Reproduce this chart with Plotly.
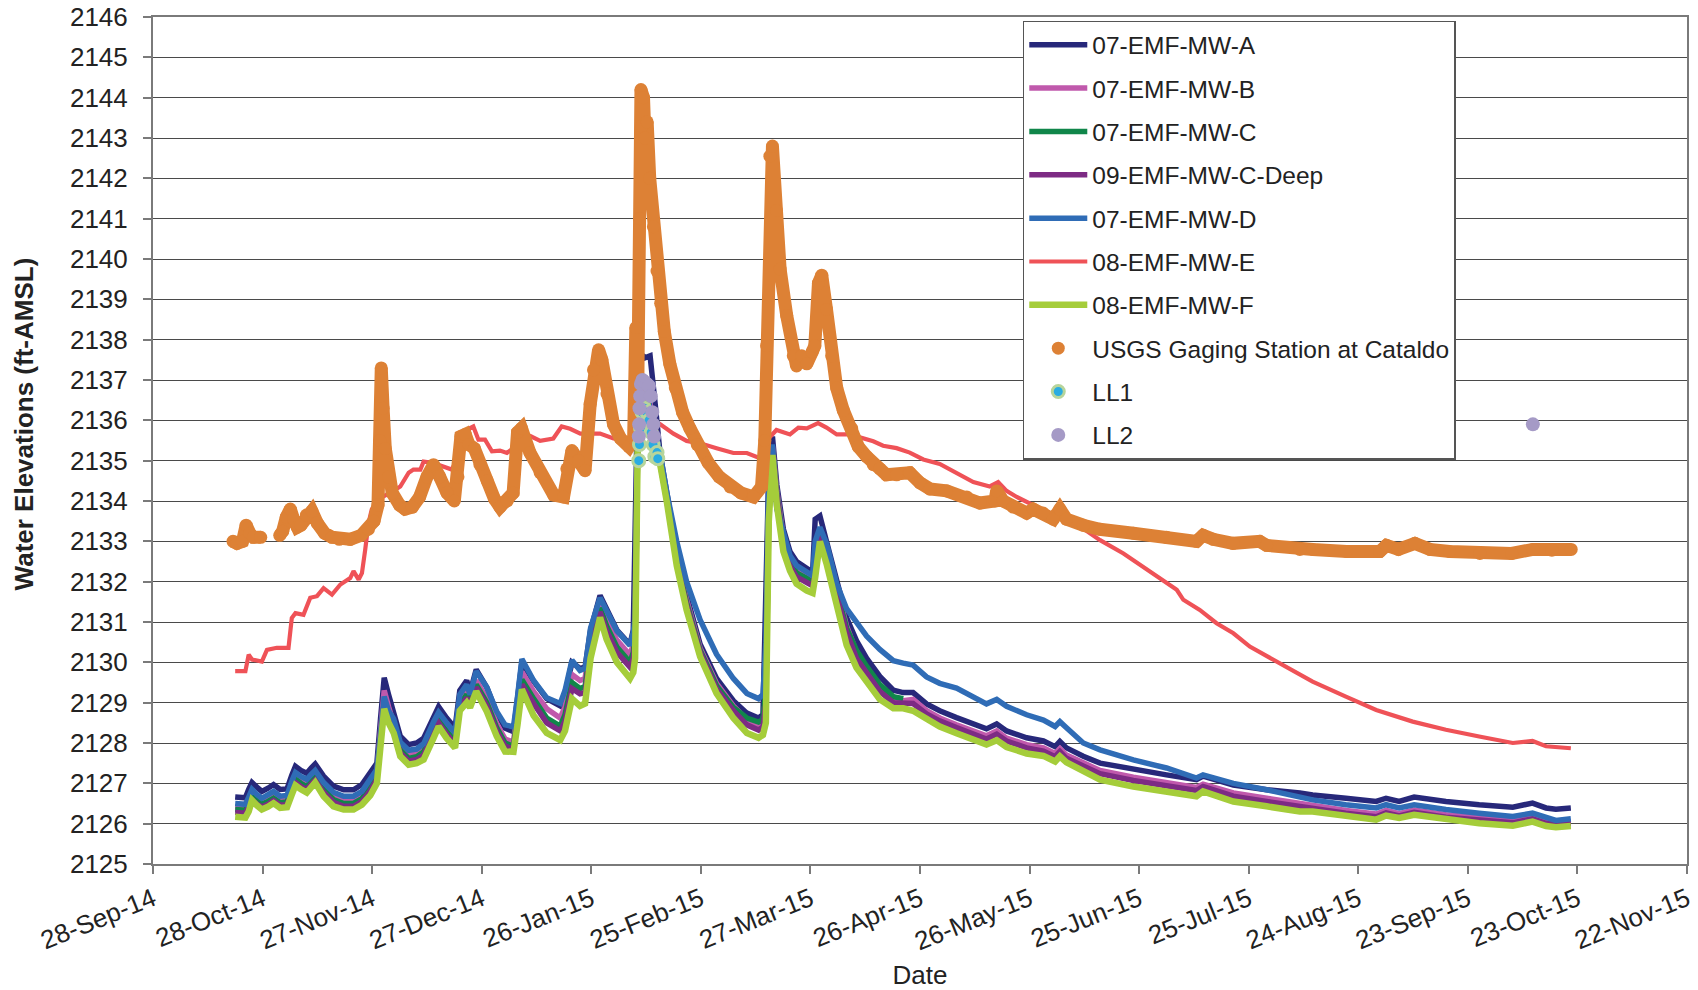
import pandas as pd
import plotly.graph_objects as go

START = pd.Timestamp("2014-09-28")

# ---------------- data (days since 28-Sep-2014, values in ft-AMSL) ----------------
well_days = [22.5, 25.3, 26.2, 27.1, 28.5, 29.8, 31.5, 33.0, 34.8, 36.7, 38.0, 39.0, 40.5, 42.1, 43.3, 44.4,
             46.7, 49.4, 52.2, 54.9, 57.2, 59.5, 61.3, 62.3, 63.3, 64.5, 65.9, 67.7, 70.0, 72.2, 74.1, 76.8,
             78.2, 80.4, 82.7, 84.0, 85.9, 86.8, 88.5, 91.4, 94.1, 96.4, 98.7, 99.8, 101.0, 104.2, 107.8,
             111.5, 112.8, 114.7, 116.9, 118.3, 119.8, 122.4, 124.2, 127.0, 129.3, 130.6, 131.5, 132.0,
             132.9, 134.7, 136.1, 137.5, 138.8, 140.7, 143.4, 146.1, 149.8, 154.3, 158.9, 162.6, 165.8,
             167.0, 167.8, 168.6, 169.6, 170.8, 172.6, 174.4, 176.2, 179.0, 180.6, 181.3, 182.6, 184.4,
             187.2, 189.9, 192.6, 195.4, 199.0, 202.7, 205.4, 208.1, 211.8, 215.4, 220.0, 224.6, 228.2,
             231.0, 233.7, 239.2, 243.8, 247.0, 248.3, 250.1, 254.7, 259.3, 268.4, 277.5, 285.7, 287.5,
             295.8, 304.9, 314.0, 317.5, 326.6, 334.9, 337.6, 341.2, 345.3, 354.0, 363.1, 372.3, 377.7,
             381.4, 384.1, 388.2]

mw_a = [2126.66, 2126.64, 2126.85, 2127.02, 2126.90, 2126.80, 2126.88, 2126.97, 2126.85, 2126.86, 2127.20,
        2127.42, 2127.32, 2127.25, 2127.38, 2127.48, 2127.18, 2126.93, 2126.84, 2126.84, 2126.97, 2127.24,
        2127.50, 2128.60, 2129.62, 2129.20, 2128.74, 2128.17, 2127.96, 2128.00, 2128.12, 2128.66, 2128.90,
        2128.62, 2128.37, 2129.30, 2129.55, 2129.25, 2129.82, 2129.38, 2128.75, 2128.37, 2128.28, 2129.10,
        2130.00, 2129.53, 2129.10, 2128.92, 2129.20, 2130.00, 2129.85, 2129.88, 2130.80, 2131.66, 2131.30,
        2130.80, 2130.57, 2130.45, 2130.80, 2133.10, 2137.70, 2137.55, 2137.60, 2136.40, 2135.20, 2134.20,
        2132.75, 2131.66, 2130.45, 2129.60, 2129.05, 2128.74, 2128.62, 2128.70, 2131.42, 2134.80, 2135.60,
        2134.40, 2133.30, 2132.75, 2132.50, 2132.34, 2132.23, 2133.55, 2133.63, 2133.00, 2132.00, 2131.10,
        2130.54, 2130.10, 2129.65, 2129.31, 2129.25, 2129.25, 2128.97, 2128.80, 2128.63, 2128.47, 2128.35,
        2128.47, 2128.30, 2128.13, 2128.05, 2127.91, 2128.04, 2127.88, 2127.67, 2127.50, 2127.34, 2127.21,
        2127.09, 2127.18, 2126.96, 2126.84, 2126.76, 2126.71, 2126.63, 2126.55, 2126.63, 2126.55, 2126.66,
        2126.55, 2126.47, 2126.41, 2126.51, 2126.39, 2126.36, 2126.39]

mw_b = [2126.42, 2126.40, 2126.58, 2126.75, 2126.62, 2126.55, 2126.62, 2126.70, 2126.60, 2126.62, 2126.95,
        2127.17, 2127.07, 2127.00, 2127.12, 2127.22, 2126.92, 2126.68, 2126.58, 2126.58, 2126.70, 2126.98,
        2127.25, 2128.30, 2129.30, 2128.90, 2128.48, 2127.92, 2127.72, 2127.75, 2127.86, 2128.40, 2128.65,
        2128.37, 2128.12, 2129.05, 2129.30, 2129.05, 2129.55, 2129.10, 2128.48, 2128.10, 2128.02, 2128.85,
        2129.76, 2129.28, 2128.85, 2128.62, 2128.90, 2129.70, 2129.55, 2129.60, 2130.55, 2131.45, 2131.05,
        2130.55, 2130.30, 2130.18, 2130.45, 2130.85, 2136.90, 2137.10, 2136.40, 2135.80, 2135.05, 2134.10,
        2132.62, 2131.55, 2130.35, 2129.48, 2128.92, 2128.58, 2128.45, 2128.50, 2129.20, 2134.00, 2135.35,
        2134.25, 2133.10, 2132.55, 2132.30, 2132.15, 2132.05, 2132.40, 2133.30, 2132.80, 2131.80, 2130.90,
        2130.25, 2129.85, 2129.40, 2129.10, 2129.05, 2129.08, 2128.80, 2128.62, 2128.45, 2128.30, 2128.18,
        2128.30, 2128.12, 2127.96, 2127.88, 2127.74, 2127.86, 2127.70, 2127.50, 2127.32, 2127.15, 2127.02,
        2126.90, 2126.98, 2126.76, 2126.63, 2126.50, 2126.45, 2126.33, 2126.24, 2126.33, 2126.25, 2126.34,
        2126.22, 2126.13, 2126.07, 2126.17, 2126.05, 2126.02, 2126.05]

mw_c = [2126.35, 2126.33, 2126.50, 2126.68, 2126.55, 2126.48, 2126.55, 2126.63, 2126.52, 2126.54, 2126.88,
        2127.10, 2127.00, 2126.92, 2127.05, 2127.15, 2126.85, 2126.60, 2126.50, 2126.50, 2126.62, 2126.90,
        2127.18, 2128.20, 2129.05, 2128.70, 2128.40, 2127.83, 2127.62, 2127.66, 2127.78, 2128.32, 2128.57,
        2128.29, 2128.04, 2128.95, 2129.20, 2128.98, 2129.45, 2129.00, 2128.38, 2128.00, 2127.92, 2128.72,
        2129.57, 2129.10, 2128.62, 2128.42, 2128.70, 2129.50, 2129.35, 2129.40, 2130.40, 2131.35, 2130.90,
        2130.38, 2130.12, 2130.00, 2130.25, 2130.65, 2136.80, 2137.00, 2136.25, 2135.65, 2135.00, 2134.05,
        2132.55, 2131.48, 2130.30, 2129.42, 2128.88, 2128.62, 2128.52, 2128.58, 2129.30, 2133.80, 2135.25,
        2134.18, 2133.00, 2132.48, 2132.22, 2132.08, 2131.98, 2132.35, 2133.20, 2132.70, 2131.72, 2130.85,
        2130.30, 2129.90, 2129.45, 2129.15, 2129.10, None, None, None, None, None, None,
        None, None, None, None, None, None, None, None, None, None, None,
        None, None, None, None, None, None, None, None, None, None, None,
        None, None, None, None, None, None, None]

mw_c_deep = [2126.28, 2126.26, 2126.43, 2126.60, 2126.48, 2126.42, 2126.48, 2126.57, 2126.46, 2126.47, 2126.80,
             2127.02, 2126.92, 2126.85, 2126.98, 2127.08, 2126.78, 2126.53, 2126.43, 2126.43, 2126.55, 2126.82,
             2127.10, 2128.10, 2128.95, 2128.60, 2128.33, 2127.76, 2127.55, 2127.59, 2127.70, 2128.25, 2128.50,
             2128.22, 2127.97, 2128.88, 2129.12, 2128.92, 2129.38, 2128.92, 2128.30, 2127.92, 2127.85, 2128.62,
             2129.45, 2128.98, 2128.50, 2128.30, 2128.55, 2129.35, 2129.22, 2129.25, 2130.30, 2131.25, 2130.78,
             2130.25, 2130.00, 2129.88, 2130.10, 2130.50, 2136.70, 2136.95, 2136.15, 2135.55, 2134.95, 2134.00,
             2132.50, 2131.42, 2130.25, 2129.35, 2128.80, 2128.45, 2128.32, 2128.40, 2129.00, 2133.60, 2135.20,
             2134.12, 2132.92, 2132.40, 2132.12, 2131.98, 2131.90, 2132.25, 2133.12, 2132.60, 2131.62, 2130.75,
             2130.10, 2129.72, 2129.28, 2129.00, 2128.98, 2128.98, 2128.72, 2128.55, 2128.38, 2128.22, 2128.10,
             2128.22, 2128.05, 2127.88, 2127.80, 2127.66, 2127.79, 2127.62, 2127.42, 2127.24, 2127.07, 2126.94,
             2126.82, 2126.92, 2126.68, 2126.55, 2126.42, 2126.38, 2126.26, 2126.17, 2126.27, 2126.19, 2126.28,
             2126.16, 2126.08, 2126.02, 2126.12, 2126.01, 2125.98, 2126.00]

mw_d = [2126.50, 2126.48, 2126.66, 2126.85, 2126.72, 2126.63, 2126.72, 2126.80, 2126.68, 2126.70, 2127.05,
        2127.27, 2127.17, 2127.10, 2127.22, 2127.32, 2127.02, 2126.78, 2126.68, 2126.68, 2126.80, 2127.08,
        2127.35, 2128.20, 2129.15, 2128.80, 2128.60, 2128.02, 2127.82, 2127.85, 2127.98, 2128.52, 2128.76,
        2128.50, 2128.25, 2129.20, 2129.45, 2129.20, 2129.78, 2129.38, 2128.78, 2128.45, 2128.40, 2129.15,
        2130.08, 2129.55, 2129.12, 2128.98, 2129.30, 2130.05, 2129.80, 2129.85, 2130.85, 2131.60, 2131.25,
        2130.78, 2130.55, 2130.42, 2130.75, 2131.10, 2136.80, 2136.90, 2136.30, 2135.70, 2135.20, 2134.20,
        2133.00, 2132.00, 2131.05, 2130.20, 2129.60, 2129.23, 2129.10, 2129.20, 2130.50, 2134.60, 2135.40,
        2133.80, 2133.20, 2132.65, 2132.40, 2132.25, 2132.15, 2133.00, 2133.35, 2132.95, 2131.95, 2131.33,
        2131.00, 2130.65, 2130.32, 2130.04, 2129.98, 2129.93, 2129.64, 2129.48, 2129.36, 2129.14, 2128.97,
        2129.08, 2128.91, 2128.70, 2128.57, 2128.41, 2128.53, 2128.38, 2128.00, 2127.83, 2127.58, 2127.38,
        2127.13, 2127.21, 2127.00, 2126.84, 2126.68, 2126.59, 2126.47, 2126.39, 2126.47, 2126.39, 2126.47,
        2126.35, 2126.26, 2126.18, 2126.26, 2126.14, 2126.08, 2126.12]

mw_f = [2126.17, 2126.15, 2126.30, 2126.58, 2126.45, 2126.35, 2126.42, 2126.51, 2126.39, 2126.41, 2126.72,
        2126.95, 2126.85, 2126.77, 2126.90, 2127.02, 2126.68, 2126.43, 2126.35, 2126.35, 2126.47, 2126.70,
        2127.00, 2127.95, 2128.85, 2128.50, 2128.25, 2127.67, 2127.46, 2127.50, 2127.59, 2128.12, 2128.41,
        2128.12, 2127.88, 2128.80, 2129.00, 2128.88, 2129.28, 2128.78, 2128.17, 2127.79, 2127.78, 2128.45,
        2129.33, 2128.68, 2128.25, 2128.07, 2128.30, 2129.10, 2128.92, 2128.98, 2130.10, 2131.11, 2130.57,
        2130.00, 2129.77, 2129.60, 2129.75, 2130.10, 2136.80, 2136.95, 2135.90, 2135.35, 2134.94, 2133.97,
        2132.40, 2131.30, 2130.14, 2129.23, 2128.62, 2128.25, 2128.13, 2128.20, 2128.50, 2133.50, 2135.14,
        2133.90, 2132.75, 2132.27, 2131.95, 2131.78, 2131.72, 2132.10, 2133.00, 2132.45, 2131.44, 2130.43,
        2129.87, 2129.53, 2129.08, 2128.86, 2128.86, 2128.80, 2128.58, 2128.41, 2128.24, 2128.07, 2127.96,
        2128.07, 2127.90, 2127.74, 2127.68, 2127.54, 2127.67, 2127.52, 2127.30, 2127.09, 2126.92, 2126.80,
        2126.68, 2126.80, 2126.55, 2126.43, 2126.30, 2126.30, 2126.18, 2126.10, 2126.20, 2126.14, 2126.22,
        2126.10, 2126.01, 2125.95, 2126.05, 2125.94, 2125.91, 2125.94]

mw_e_days = [22.5, 25.3, 26.2, 27.1, 29.8, 31.2, 33.9, 37.1, 38.0, 39.0, 41.2, 43.05, 44.9, 46.7, 49.0, 51.3,
             54.0, 54.9, 56.3, 57.2, 58.1, 59.0, 59.9, 61.3, 62.2, 64.9, 67.7, 70.0, 71.3, 73.2, 74.1, 76.8,
             79.5, 81.8, 82.7, 83.6, 85.5, 86.8, 87.7, 89.1, 90.9, 92.8, 95.0, 96.9, 98.7, 100.5, 103.3,
             106.0, 109.6, 111.9, 114.2, 117.0, 119.7, 122.4, 126.1, 129.7, 132.5, 135.0, 138.8, 142.5,
             146.1, 149.8, 154.3, 158.9, 162.6, 166.2, 168.0, 170.7, 174.4, 176.7, 179.0, 182.1, 184.4,
             187.2, 190.8, 194.5, 197.2, 199.9, 203.6, 207.2, 210.9, 215.4, 220.0, 224.6, 229.1, 231.4,
             233.7, 236.5, 241.0, 245.6, 250.1, 254.7, 259.3, 265.7, 271.1, 276.6, 280.3, 282.1, 286.6,
             291.2, 295.8, 300.3, 304.9, 309.4, 317.5, 326.6, 334.9, 344.9, 354.0, 363.1, 372.3, 377.7,
             381.4, 388.2]
mw_e = [2129.78, 2129.78, 2130.19, 2130.07, 2130.02, 2130.31, 2130.36, 2130.36, 2131.10, 2131.22, 2131.18,
        2131.60, 2131.64, 2131.84, 2131.68, 2131.93, 2132.09, 2132.26, 2132.05, 2132.21, 2132.79, 2133.45,
        2133.79, 2133.95, 2134.07, 2134.20, 2134.36, 2134.70, 2134.78, 2134.78, 2134.98, 2134.94, 2134.86,
        2134.78, 2134.94, 2135.36, 2135.60, 2135.81, 2135.85, 2135.52, 2135.52, 2135.23, 2135.25, 2135.19,
        2135.31, 2135.67, 2135.61, 2135.49, 2135.55, 2135.85, 2135.79, 2135.67, 2135.67, 2135.67, 2135.55,
        2135.49, 2135.67, 2135.80, 2135.91, 2135.67, 2135.49, 2135.43, 2135.31, 2135.19, 2135.19, 2135.06,
        2135.50, 2135.76, 2135.65, 2135.82, 2135.80, 2135.93, 2135.82, 2135.65, 2135.65, 2135.54, 2135.48,
        2135.37, 2135.31, 2135.20, 2135.03, 2134.92, 2134.69, 2134.47, 2134.36, 2134.47, 2134.25, 2134.10,
        2133.90, 2133.69, 2133.60, 2133.32, 2133.03, 2132.70, 2132.37, 2132.04, 2131.80, 2131.55, 2131.30,
        2130.97, 2130.72, 2130.39, 2130.15, 2129.94, 2129.52, 2129.15, 2128.82, 2128.53, 2128.33, 2128.16,
        2128.00, 2128.05, 2127.92, 2127.87]

usgs_days = [21.9, 23.0, 24.5, 25.5, 26.5, 27.5, 29.5, 32.0, 34.7, 35.5, 36.5, 37.6, 38.5, 39.5, 40.5, 42.0,
             43.5, 45.0, 47.0, 49.0, 51.0, 54.0, 57.0, 59.0, 60.5, 61.6, 62.1, 62.5, 63.0, 63.6, 64.5, 65.5,
             67.5, 69.0, 71.0, 73.0, 75.0, 76.8, 78.5, 80.5, 82.5, 83.5, 84.3, 85.5, 86.5, 88.0, 89.5, 91.5,
             93.5, 95.0, 97.0, 98.6, 99.8, 100.9, 103.2, 106.0, 109.7, 112.4, 113.3, 114.7, 116.5, 118.3,
             119.7, 120.6, 122.0, 122.9, 124.3, 126.1, 128.0, 130.3, 131.6, 132.2, 132.7, 133.2, 133.6,
             133.9, 134.3, 134.7, 135.3, 136.0, 137.0, 138.0, 139.0, 140.0, 141.5, 143.0, 145.0, 147.0,
             149.0, 152.0, 155.0, 158.0, 161.0, 164.4, 166.6, 167.5, 168.0, 168.9, 169.6, 170.7, 171.7,
             173.5, 175.3, 176.2, 177.6, 179.0, 180.5, 181.2, 182.2, 183.1, 184.4, 185.8, 187.2, 189.0,
             191.3, 193.1, 195.4, 197.2, 199.0, 200.8, 203.6, 207.2, 210.0, 212.7, 217.3, 222.8, 226.4,
             230.5, 231.0, 232.8, 235.5, 239.2, 241.0, 243.7, 246.5, 248.3, 250.1, 254.7, 259.2, 268.4,
             277.5, 285.7, 287.5, 290.3, 295.7, 303.0, 304.9, 314.0, 317.6, 326.8, 335.9, 337.7, 341.0,
             345.5, 349.6, 355.0, 363.3, 372.0, 377.8, 383.0, 388.3]
usgs = [2133.00, 2132.95, 2133.00, 2133.40, 2133.20, 2133.10, 2133.10, None, 2133.15, 2133.25, 2133.60,
        2133.80, 2133.55, 2133.35, 2133.40, 2133.65, 2133.75, 2133.45, 2133.20, 2133.10, 2133.05, 2133.05,
        2133.15, 2133.30, 2133.50, 2133.90, 2135.50, 2137.30, 2136.30, 2135.30, 2134.60, 2134.20, 2133.90,
        2133.80, 2133.85, 2134.10, 2134.60, 2134.90, 2134.60, 2134.20, 2134.00, 2134.60, 2135.60, 2135.65,
        2135.40, 2135.30, 2134.90, 2134.50, 2134.05, 2133.85, 2134.00, 2134.20, 2135.70, 2135.80, 2135.20,
        2134.70, 2134.15, 2134.10, 2134.80, 2135.25, 2135.00, 2134.75, 2136.40, 2137.25, 2137.75, 2137.50,
        2136.65, 2135.90, 2135.55, 2135.35, 2135.55, 2138.30, 2136.50, 2141.00, 2144.20, 2143.30, 2144.00,
        2143.00, 2143.40, 2142.00, 2140.80, 2139.70, 2138.90, 2138.20, 2137.40, 2136.80, 2136.20, 2135.80,
        2135.40, 2134.95, 2134.60, 2134.35, 2134.20, 2134.10, 2134.35, 2135.50, 2137.85, 2142.55, 2142.80,
        2141.20, 2139.75, 2138.60, 2137.60, 2137.35, 2137.60, 2137.40, 2137.70, 2137.85, 2139.40, 2139.60,
        2138.75, 2137.60, 2136.80, 2136.25, 2135.80, 2135.35, 2135.10, 2134.90, 2134.80, 2134.65, 2134.65,
        2134.70, 2134.45, 2134.30, 2134.25, 2134.10, 2133.95, 2134.00, 2134.25, 2134.00, 2133.85, 2133.70,
        2133.80, 2133.70, 2133.55, 2133.80, 2133.55, 2133.40, 2133.30, 2133.20, 2133.10, 2133.00, 2133.15,
        2133.05, 2132.95, 2133.00, 2132.90, 2132.80, 2132.80, 2132.75, 2132.75, 2132.90, 2132.80, 2132.95,
        2132.80, 2132.75, 2132.70, 2132.70, 2132.80, 2132.78, 2132.80]

ll1_days = [133.0, 133.2, 133.5, 133.9, 134.5, 135.2, 135.8, 136.4, 136.9, 137.4, 138.0, 138.2]
ll1 = [2135.00, 2135.40, 2135.80, 2136.20, 2136.30, 2136.20, 2136.00, 2135.70, 2135.40, 2135.10, 2135.20, 2135.05]

ll2_days = [133.0, 133.1, 133.2, 133.4, 133.6, 134.0, 134.6, 135.2, 135.8, 136.3, 136.7, 137.0, 137.2, 377.8]
ll2 = [2135.60, 2135.90, 2136.30, 2136.60, 2136.90, 2137.00, 2136.95, 2136.90, 2136.85, 2136.60,
       2136.20, 2135.90, 2135.60, 2135.90]

tick_days = [0, 30, 60, 90, 120, 150, 180, 210, 240, 270, 300, 330, 360, 390, 420]
tick_labels = ["28-Sep-14", "28-Oct-14", "27-Nov-14", "27-Dec-14", "26-Jan-15", "25-Feb-15", "27-Mar-15",
               "26-Apr-15", "26-May-15", "25-Jun-15", "25-Jul-15", "24-Aug-15", "23-Sep-15", "23-Oct-15",
               "22-Nov-15"]
y_ticks = list(range(2125, 2147))


def to_dates(days):
    return [START + pd.Timedelta(days=d) for d in days]


FONT = "Liberation Sans, Arial, sans-serif"
fig = go.Figure()

wells = [
    ("07-EMF-MW-A", mw_a, "#27287A", 5.5),
    ("07-EMF-MW-B", mw_b, "#C059AC", 5.5),
    ("07-EMF-MW-C", mw_c, "#10864A", 5.5),
    ("09-EMF-MW-C-Deep", mw_c_deep, "#7D2B84", 5.5),
    ("07-EMF-MW-D", mw_d, "#2F6CB6", 5.5),
]
wx = to_dates(well_days)
for i, (name, vals, col, w) in enumerate(wells):
    fig.add_trace(go.Scatter(x=wx, y=vals, mode="lines", name=name, legendgroup=f"g{i}",
                             line=dict(color=col, width=w)))

fig.add_trace(go.Scatter(x=to_dates(mw_e_days), y=mw_e, mode="lines", name="08-EMF-MW-E",
                         legendgroup="g5", line=dict(color="#EF5257", width=4.2)))
fig.add_trace(go.Scatter(x=wx, y=mw_f, mode="lines", name="08-EMF-MW-F", legendgroup="g6",
                         line=dict(color="#A5CD3A", width=6.5)))

ux = to_dates(usgs_days)
fig.add_trace(go.Scatter(x=ux, y=usgs, mode="lines", showlegend=False, legendgroup="g7",
                         line=dict(color="#DD8135", width=13), hoverinfo="skip"))
fig.add_trace(go.Scatter(x=ux, y=usgs, mode="markers", name="USGS Gaging Station at Cataldo",
                         legendgroup="g7", marker=dict(color="#DD8135", size=13)))

fig.add_trace(go.Scatter(x=to_dates(ll1_days), y=ll1, mode="markers", name="LL1", legendgroup="g8",
                         marker=dict(color="#2AACE2", size=12, line=dict(color="#B7D59B", width=3))))
fig.add_trace(go.Scatter(x=to_dates(ll2_days), y=ll2, mode="markers", name="LL2", legendgroup="g9",
                         marker=dict(color="#A59AC6", size=14)))

axis_col = "#7a7a7a"
fig.update_layout(
    width=1698, height=990,
    margin=dict(l=153, r=11, t=17, b=126),
    paper_bgcolor="white", plot_bgcolor="white",
    font=dict(family=FONT, size=26, color="#222222"),
    showlegend=True,
    legend=dict(x=0.567, y=0.9955, xanchor="left", yanchor="top",
                bgcolor="white", bordercolor="#555555", borderwidth=1.5,
                font=dict(family=FONT, size=24.5, color="#222222"),
                tracegroupgap=8.5, itemwidth=58),
    xaxis=dict(
        type="date", automargin=False,
        range=[START, START + pd.Timedelta(days=420)],
        tickmode="array", tickvals=to_dates(tick_days), ticktext=tick_labels,
        tickangle=-22, tickfont=dict(size=26),
        showgrid=False, showline=True, linecolor=axis_col, linewidth=2, mirror=True,
        ticks="outside", ticklen=8, tickcolor=axis_col, tickwidth=2,
        ticklabeloverflow="allow",
        title=dict(text="Date", font=dict(size=26), standoff=10),
        zeroline=False,
    ),
    yaxis=dict(
        range=[2125, 2146], automargin=False, tickmode="array", tickvals=y_ticks,
        ticktext=[str(v) for v in y_ticks], tickfont=dict(size=26),
        showgrid=True, gridcolor="#4a4a4a", gridwidth=1,
        showline=True, linecolor=axis_col, linewidth=2, mirror=True,
        ticks="outside", ticklen=8, tickcolor=axis_col, tickwidth=2,
        ticklabelstandoff=10, ticklabeloverflow="allow",
        zeroline=False,
    ),
    annotations=[dict(text="<b>Water Elevations (ft-AMSL)</b>", xref="paper", yref="paper",
                      x=0, y=0.519, xanchor="center", yanchor="middle", xshift=-129,
                      textangle=-90, showarrow=False, font=dict(family=FONT, size=26, color="#222222"))],
)

# remove the browser's default 8px body margin so the figure fills the window exactly
fig.write_html("out.html", config={"displayModeBar": False},
               post_script="document.body.style.margin='0';")
